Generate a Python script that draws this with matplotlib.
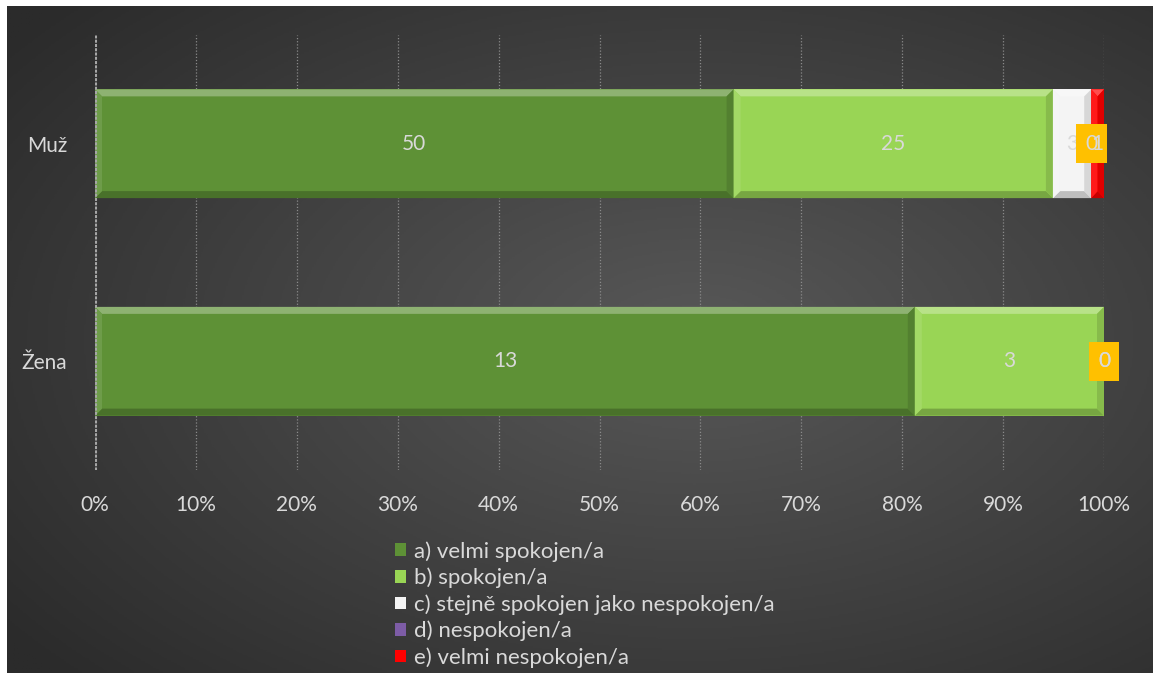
import matplotlib.pyplot as plt
import numpy as np
from matplotlib.colors import LinearSegmentedColormap, to_rgb
from matplotlib.patches import Polygon, Patch

plt.rcParams['font.family'] = ['Lato', 'DejaVu Sans']

skupiny = ['Muž', 'Žena']
odpovedi = ['a) velmi spokojen/a', 'b) spokojen/a',
            'c) stejně spokojen jako nespokojen/a', 'd) nespokojen/a',
            'e) velmi nespokojen/a']
pocty = {
    'a) velmi spokojen/a': [50, 13],
    'b) spokojen/a': [25, 3],
    'c) stejně spokojen jako nespokojen/a': [3, 0],
    'd) nespokojen/a': [0, 0],
    'e) velmi nespokojen/a': [1, 0],
}
barvy = ['#5e9136', '#99d555', '#f4f4f4', '#7d5ca6', '#ff0000']
osa_x = [0, 10, 20, 30, 40, 50, 60, 70, 80, 90, 100]

text_col = '#d9d9d9'


def mix(c, other, t):
    c = np.array(to_rgb(c))
    return tuple(c + (np.array(other) - c) * t)


def bevel(ax, rect, color, px=7):
    x0, y0 = rect.get_xy()
    w, h = rect.get_width(), rect.get_height()
    if w <= 0:
        return
    xr = ax.get_xlim()[1] - ax.get_xlim()[0]
    yr = abs(ax.get_ylim()[1] - ax.get_ylim()[0])
    dx = min(px / ax.bbox.width * xr, w / 2)
    dy = px / ax.bbox.height * yr
    light = mix(color, (1, 1, 1), 0.3)
    lite2 = mix(color, (1, 1, 1), 0.1)
    dark = mix(color, (0, 0, 0), 0.22)
    dark2 = mix(color, (0, 0, 0), 0.12)
    # y axis is inverted: y0 is the top edge on screen
    polys = [
        ([(x0, y0), (x0 + w, y0), (x0 + w - dx, y0 + dy), (x0 + dx, y0 + dy)], light),
        ([(x0, y0 + h), (x0 + w, y0 + h), (x0 + w - dx, y0 + h - dy), (x0 + dx, y0 + h - dy)], dark),
        ([(x0, y0), (x0 + dx, y0 + dy), (x0 + dx, y0 + h - dy), (x0, y0 + h)], lite2),
        ([(x0 + w, y0), (x0 + w - dx, y0 + dy), (x0 + w - dx, y0 + h - dy), (x0 + w, y0 + h)], dark2),
    ]
    for pts, c in polys:
        ax.add_patch(Polygon(pts, closed=True, facecolor=c, edgecolor='none', zorder=3))


fig = plt.figure(figsize=(11.53, 6.73), dpi=100, facecolor='white')

# dark radial background
bg = fig.add_axes([7 / 1153, 0, 1 - 7 / 1153, 1 - 6 / 673], zorder=-1)
yy, xx = np.mgrid[0:1:400j, 0:1:700j]
r = np.sqrt(((xx - 0.6) / 0.75) ** 2 + ((yy - 0.5) / 0.75) ** 2)
cmap = LinearSegmentedColormap.from_list('bg', ['#585858', '#2b2b2b'])
bg.imshow(np.clip(r, 0, 1), cmap=cmap, aspect='auto', extent=[0, 1, 0, 1],
          origin='lower', vmin=0, vmax=1)
bg.axis('off')

ax = fig.add_axes([95 / 1153, 1 - 470 / 673, 1009 / 1153, 435 / 673])
ax.set_facecolor('none')

counts = np.array([pocty[k] for k in odpovedi], dtype=float)
totals = counts.sum(axis=0)
shares = counts / totals * 100

y = np.arange(len(skupiny))
ax.set_xlim(0, 100)
ax.set_ylim(-0.5, 1.5)
ax.invert_yaxis()

left = np.zeros(len(skupiny))
bars = []
for i, name in enumerate(odpovedi):
    b = ax.barh(y, shares[i], left=left, height=0.5, color=barvy[i],
                edgecolor='none', zorder=2)
    bars.append(b)
    left = left + shares[i]

for i, b in enumerate(bars):
    for rect in b:
        bevel(ax, rect, barvy[i])

# data labels
left = np.zeros(len(skupiny))
for i, name in enumerate(odpovedi):
    for j in range(len(skupiny)):
        xc = left[j] + shares[i][j] / 2
        kw = {}
        if i == 3:
            kw['bbox'] = dict(boxstyle='square,pad=0.45', facecolor='#ffc000',
                              edgecolor='none')
        ax.text(xc, y[j], '%d' % counts[i][j], ha='center', va='center',
                color=text_col, fontsize=15, zorder=5, **kw)
    left = left + shares[i]

# gridlines
for v in osa_x[1:]:
    ax.axvline(v, color='#8a8a8a', linestyle=(0, (1, 1.5)), linewidth=0.9, zorder=1)
ax.axvline(0, color='#a6a6a6', linewidth=2.2, linestyle=(0, (1, 0.4)), zorder=4)

for s in ax.spines.values():
    s.set_visible(False)
ax.set_xticks(osa_x)
ax.set_xticklabels(['%d%%' % v for v in osa_x])
ax.set_yticks(y)
ax.set_yticklabels(skupiny)
ax.tick_params(axis='both', length=0, colors=text_col, labelsize=15)
ax.tick_params(axis='x', pad=18)
ax.tick_params(axis='y', pad=20)

handles = [Patch(facecolor=c, edgecolor='none') for c in barvy]
leg = fig.legend(handles, odpovedi, loc='upper left',
                 bbox_to_anchor=(395 / 1153, 1 - 541 / 673), frameon=False,
                 fontsize=16, borderpad=0, borderaxespad=0,
                 handlelength=0.5, handleheight=0.5,
                 handletextpad=0.35, labelspacing=0.27)
for t in leg.get_texts():
    t.set_color(text_col)

fig.savefig('out.png', dpi=100, facecolor='white')
